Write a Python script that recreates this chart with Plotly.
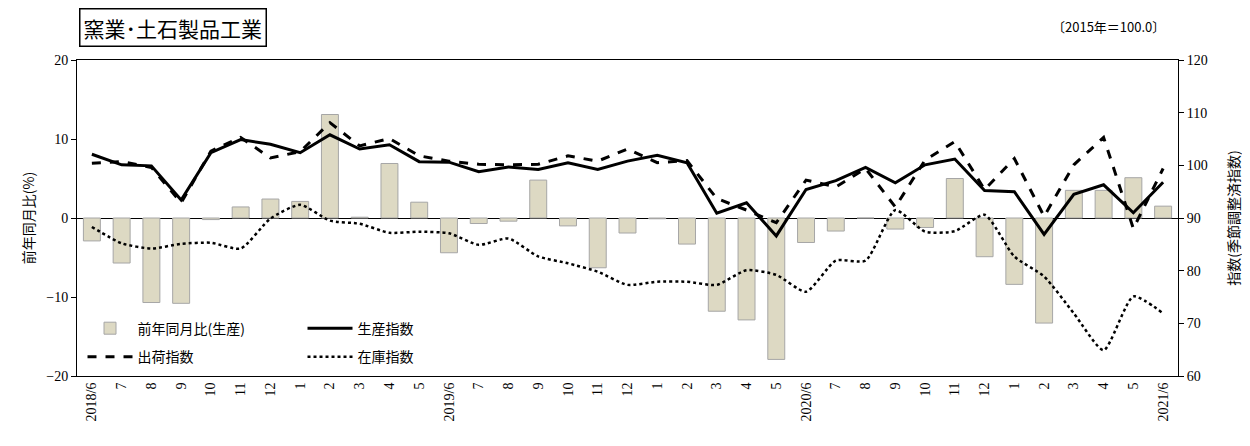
import plotly.graph_objects as go

# months 2018/6 .. 2021/6
months = ["2018/6", "7", "8", "9", "10", "11", "12", "1", "2", "3", "4", "5",
          "2019/6", "7", "8", "9", "10", "11", "12", "1", "2", "3", "4", "5",
          "2020/6", "7", "8", "9", "10", "11", "12", "1", "2", "3", "4", "5",
          "2021/6"]

# 前年同月比(生産) %
yoy = [-2.9, -5.7, -10.7, -10.8, -0.2, 1.4, 2.4, 2.1, 13.1, 0.1, 6.9, 2.0,
       -4.4, -0.7, -0.4, 4.8, -1.0, -6.3, -1.9, -0.1, -3.3, -11.8, -12.9, -17.9,
       -3.1, -1.65, 0.0, -1.4, -1.2, 5.0, -4.9, -8.4, -13.3, 3.5, 3.5, 5.1,
       1.5]

# 生産指数
prod = [102.1, 100.1, 99.9, 93.4, 102.4, 104.9, 104.0, 102.4, 105.8, 103.1, 103.9, 100.7,
        100.6, 98.8, 99.7, 99.2, 100.5, 99.2, 100.8, 101.9, 100.5, 90.9, 92.9, 86.6,
        95.4, 97.1, 99.6, 96.7, 100.1, 101.2, 95.2, 95.0, 86.9, 94.5, 96.3, 91.0,
        96.8]

# 出荷指数
ship = [100.4, 100.7, 99.6, 92.9, 102.7, 105.3, 101.4, 102.6, 108.1, 103.7, 105.1, 101.8,
        100.8, 100.2, 100.1, 100.2, 101.8, 100.8, 103.1, 100.5, 100.9, 93.7, 91.5, 89.1,
        97.2, 95.9, 99.4, 92.1, 101.0, 104.5, 95.4, 101.3, 90.3, 100.1, 105.3, 88.0,
        99.4]

# 在庫指数
inv = [88.3, 85.2, 84.2, 85.1, 85.3, 84.2, 89.9, 92.5, 89.5, 88.9, 87.2, 87.4,
       87.1, 84.9, 86.1, 82.7, 81.4, 79.8, 77.3, 77.9, 77.9, 77.3, 80.1, 79.2,
       76.0, 81.9, 81.9, 91.5, 87.4, 87.5, 90.6, 82.7, 78.9, 71.9, 64.9, 75.1,
       71.9]

x = list(range(len(months)))
serif = "Liberation Serif, Noto Sans CJK JP"
jp = "Noto Sans CJK JP"

fig = go.Figure()
fig.add_trace(go.Bar(x=x, y=yoy, name="前年同月比(生産)", width=0.57,
                     marker=dict(color="#ddd9c3", line=dict(color="#a6a6a6", width=1)),
                     legend="legend"))
fig.add_trace(go.Scatter(x=x, y=prod, name="生産指数", yaxis="y2", mode="lines",
                         line=dict(color="black", width=3), legend="legend"))
fig.add_trace(go.Scatter(x=x, y=ship, name="出荷指数", yaxis="y2", mode="lines",
                         line=dict(color="black", width=3, dash="dash"), legend="legend2"))
fig.add_trace(go.Scatter(x=x, y=inv, name="在庫指数", yaxis="y2", mode="lines",
                         line=dict(color="black", width=2.5, dash="dot", shape="spline", smoothing=0.6),
                         legend="legend2"))

fig.update_layout(
    width=1250, height=446,
    margin=dict(l=69, r=80, t=52, b=78),
    plot_bgcolor="white", paper_bgcolor="white",
    font=dict(family=serif, size=14, color="black"),
    showlegend=True,
    xaxis=dict(range=[-0.5, 36.5], tickmode="array", tickvals=x, ticktext=months,
               tickangle=-90, showgrid=False, zeroline=False, showline=True, automargin=False,
               linecolor="black", mirror=True, ticks="", tickfont=dict(size=14, family=serif)),
    yaxis=dict(range=[-20, 20], dtick=10, showgrid=False, zeroline=True, zerolinecolor="black",
               zerolinewidth=1, showline=True, linecolor="black", ticks="outside",
               ticklen=5, tickcolor="black", automargin=False,
               title=dict(text="前年同月比(%)", font=dict(family=jp, size=14), standoff=8)),
    yaxis2=dict(range=[60, 120], dtick=10, overlaying="y", side="right", showgrid=False,
                zeroline=False, showline=True, linecolor="black", ticks="outside",
                ticklen=5, tickcolor="black", automargin=False,
                title=dict(text="指数(季節調整済指数)", font=dict(family=jp, size=14), standoff=22)),
    legend=dict(orientation="h", x=0.005, y=0.15, xanchor="left", yanchor="middle",
                entrywidth=160, entrywidthmode="pixels", bgcolor="rgba(0,0,0,0)",
                font=dict(family=jp, size=14), itemwidth=45),
    legend2=dict(orientation="h", x=0.005, y=0.06, xanchor="left", yanchor="middle",
                 entrywidth=160, entrywidthmode="pixels", bgcolor="rgba(0,0,0,0)",
                 font=dict(family=jp, size=14), itemwidth=45),
)

fig.add_annotation(text="窯業･土石製品工業", xref="paper", yref="paper",
                   x=0.002, y=1.04, xanchor="left", yanchor="bottom", showarrow=False,
                   font=dict(family=jp, size=21, color="black"),
                   bordercolor="black", borderwidth=1.5, borderpad=3, bgcolor="white")
fig.add_annotation(text="〔2015年＝100.0〕", xref="paper", yref="paper",
                   x=0.99, y=1.07, xanchor="right", yanchor="bottom", showarrow=False,
                   font=dict(family=jp, size=13, color="black"))

fig.write_html("out.html")
